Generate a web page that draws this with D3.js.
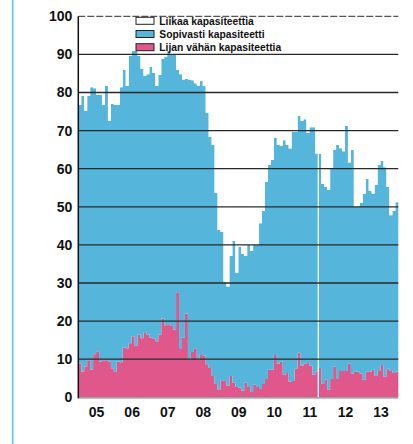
<!DOCTYPE html>
<html>
<head>
<meta charset="utf-8">
<script src="https://cdn.jsdelivr.net/npm/d3@7"></script>
<style>
  body { margin: 0; background: #fff; }
  svg { display: block; }
  text { font-family: "Liberation Sans", Arial, sans-serif; font-weight: bold; }
</style>
</head>
<body>
<div id="chart"></div>
<script>
// monthly values 2005-01 .. 2013-12, share of firms (%)
var liianVahan = [
  8.9, 6.8, 8.1, 9.7, 7.3, 11.3, 12.1, 9.4, 9.7, 9.7, 9.4, 7.6,
  6.8, 9.4, 9.2, 13.1, 12.9, 14.2, 16.0, 13.6, 16.5, 15.5, 17.1, 16.5,
  15.7, 15.5, 14.7, 16.5, 20.7, 18.9, 19.2, 18.9, 17.7, 27.6, 12.7, 15.6,
  22.0, 10.0, 11.9, 12.9, 10.0, 11.1, 11.0, 8.7, 7.7, 5.6, 3.5, 1.9,
  4.5, 4.3, 3.0, 5.6, 3.8, 2.7, 2.5, 1.7, 3.8, 2.7, 1.4, 3.3,
  2.7, 2.2, 3.5, 4.8, 7.2, 7.2, 11.1, 8.8, 9.3, 5.9, 6.4, 4.1,
  4.3, 7.5, 11.7, 8.3, 8.8, 9.0, 8.3, 5.9, 6.7, 7.7, 3.5, 4.6,
  2.0, 4.8, 8.0, 4.8, 6.9, 6.9, 6.9, 8.8, 6.2, 6.7, 6.7, 6.2,
  4.6, 6.7, 6.7, 7.2, 5.6, 6.9, 8.5, 5.4, 7.5, 6.9, 6.4, 6.7
];
var sopivasti = [
  67.8, 72.3, 67.1, 69.4, 74.1, 69.8, 67.3, 70.0, 67.0, 72.0, 63.2, 69.4,
  69.9, 67.3, 72.2, 72.8, 68.8, 75.4, 74.9, 77.3, 73.1, 70.7, 67.3, 68.3,
  71.0, 69.6, 67.0, 68.1, 68.1, 70.5, 71.7, 71.1, 72.3, 58.3, 72.1, 67.8,
  61.6, 73.4, 71.3, 69.5, 71.8, 71.9, 70.7, 66.0, 60.6, 60.6, 50.1, 42.0,
  38.9, 26.0, 26.1, 31.5, 37.2, 30.0, 37.0, 35.9, 33.3, 37.3, 37.0, 36.7,
  37.3, 43.5, 45.4, 51.7, 53.8, 55.1, 57.0, 57.4, 56.7, 61.6, 59.8, 61.2,
  65.3, 62.1, 62.1, 64.3, 64.2, 60.4, 62.6, 65.0, 57.2, 56.2, 52.5, 50.6,
  52.4, 55.4, 56.9, 61.4, 58.5, 57.7, 64.3, 52.8, 58.7, 43.3, 43.3, 44.8,
  48.8, 50.6, 47.5, 46.2, 50.1, 54.1, 53.5, 55.0, 47.7, 40.9, 42.5, 44.5
];
var yearLabels = ["05", "06", "07", "08", "09", "10", "11", "12", "13"];
var yTicks = [0, 10, 20, 30, 40, 50, 60, 70, 80, 90, 100];
var gridTicks = [10, 20, 30, 40, 50, 60, 70, 80, 90];
var seriesNames = ["Liikaa kapasiteettia", "Sopivasti kapasiteetti", "Lijan vähän kapasiteettia"];
var seriesColors = ["#ffffff", "#55b5da", "#e0578b"];
var breakMonth = 81; // series break, white line

var margin = {top: 16.3, right: 14.7, bottom: 46.7, left: 78.3},
    width = 413 - margin.left - margin.right,
    height = 444 - margin.top - margin.bottom;

var root = d3.select("#chart").append("svg")
    .attr("width", 413)
    .attr("height", 444);

// light blue page rule on the left
root.append("line")
    .attr("x1", 12.7).attr("x2", 12.7)
    .attr("y1", 0).attr("y2", 444)
    .attr("stroke", "#5ec6f0")
    .attr("stroke-width", 1.6);

var svg = root.append("g")
    .attr("transform", "translate(" + margin.left + "," + margin.top + ")");

var n = sopivasti.length;
var x = d3.scaleLinear().domain([0, n]).range([0, width]);
var y = d3.scaleLinear().domain([0, 100]).range([height, 0]);

var rows = sopivasti.map(function(s, i) {
  return {i: i, vahan: liianVahan[i], sopiva: s, liikaa: 100 - s - liianVahan[i]};
});
// extra row so the last step is closed
rows.push(Object.assign({}, rows[n - 1], {i: n}));

var stacked = d3.stack().keys(["vahan", "sopiva", "liikaa"])(rows);
var fills = [seriesColors[2], seriesColors[1], seriesColors[0]];

var area = d3.area()
    .curve(d3.curveStepAfter)
    .x(function(d) { return x(d.data.i); })
    .y0(function(d) { return y(d[0]); })
    .y1(function(d) { return y(d[1]); });

svg.selectAll(".layer")
  .data(stacked)
  .enter().append("path")
    .attr("class", "layer")
    .attr("fill", function(d, i) { return fills[i]; })
    .attr("d", area);

// break in the series
svg.append("line")
    .attr("x1", x(breakMonth)).attr("x2", x(breakMonth))
    .attr("y1", y(0))
    .attr("y2", y(sopivasti[breakMonth] + liianVahan[breakMonth]))
    .attr("stroke", "#fff")
    .attr("stroke-width", 1.3);

// grid lines over the bars
svg.selectAll(".grid")
  .data(gridTicks)
  .enter().append("line")
    .attr("class", "grid")
    .attr("x1", 0).attr("x2", width)
    .attr("y1", function(d) { return y(d); })
    .attr("y2", function(d) { return y(d); })
    .attr("stroke", "#2a2a2a")
    .attr("stroke-width", 1.3);

svg.append("line")
    .attr("x1", 0).attr("x2", width)
    .attr("y1", y(100)).attr("y2", y(100))
    .attr("stroke", "#555")
    .attr("stroke-width", 1.3)
    .attr("stroke-dasharray", "7,2");

svg.append("line")
    .attr("x1", 0).attr("x2", width)
    .attr("y1", y(0) + 0.5).attr("y2", y(0) + 0.5)
    .attr("stroke", "#888")
    .attr("stroke-width", 1.2);

svg.append("line")
    .attr("x1", 0).attr("x2", 0)
    .attr("y1", y(100)).attr("y2", y(0) + 1)
    .attr("stroke", "#111")
    .attr("stroke-width", 1.5);

// y axis labels
var yAxis = svg.append("g")
    .call(d3.axisLeft(y).tickValues(yTicks).tickSize(0).tickPadding(6));
yAxis.select(".domain").remove();
yAxis.selectAll("text")
    .attr("font-size", "14px")
    .attr("font-family", "Liberation Sans, Arial, sans-serif")
    .attr("font-weight", "bold")
    .attr("fill", "#111");

// year labels in the middle of each year
var xAxis = svg.append("g")
    .attr("transform", "translate(0," + height + ")")
    .call(d3.axisBottom(x)
      .tickValues(yearLabels.map(function(d, i) { return 6 + 12 * i; }))
      .tickFormat(function(d, i) { return yearLabels[i]; })
      .tickSize(0).tickPadding(10));
xAxis.select(".domain").remove();
xAxis.selectAll("text")
    .attr("font-size", "14px")
    .attr("font-family", "Liberation Sans, Arial, sans-serif")
    .attr("font-weight", "bold")
    .attr("fill", "#111");

// legend
var legend = root.append("g")
    .attr("transform", "translate(136,17.3)");

var item = legend.selectAll(".item")
  .data(seriesNames)
  .enter().append("g")
    .attr("class", "item")
    .attr("transform", function(d, i) { return "translate(0," + (i * 13.2) + ")"; });

item.append("rect")
    .attr("width", 18)
    .attr("height", 7)
    .attr("fill", function(d, i) { return seriesColors[i]; })
    .attr("stroke", "#222")
    .attr("stroke-width", 1);

item.append("text")
    .attr("x", 23.3)
    .attr("y", 7.3)
    .attr("font-size", "10.3px")
    .attr("fill", "#111")
    .text(function(d) { return d; });
</script>
</body>
</html>
